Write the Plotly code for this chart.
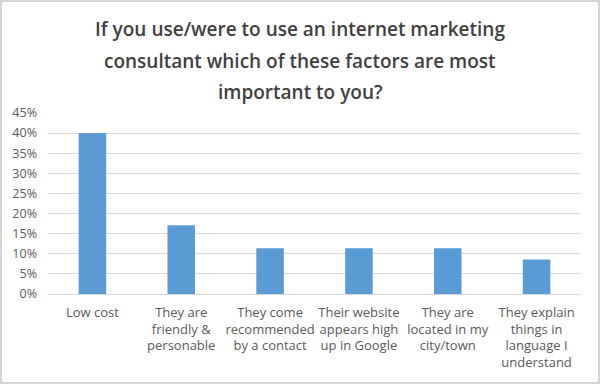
import plotly.graph_objects as go

categories = [
    "Low cost",
    "They are<br>friendly &<br>personable",
    "They come<br>recommended<br>by a contact",
    "Their website<br>appears high<br>up in Google",
    "They are<br>located in my<br>city/town",
    "They explain<br>things in<br>language I<br>understand",
]
values = [0.40, 0.171, 0.114, 0.114, 0.114, 0.086]
y_ticks = [0, 0.05, 0.10, 0.15, 0.20, 0.25, 0.30, 0.35, 0.40, 0.45]
y_labels = ["0%", "5%", "10%", "15%", "20%", "25%", "30%", "35%", "40%", "45%"]
title_lines = ["If you use/were to use an internet marketing",
               "consultant which of these factors are most",
               "important to you?"]

W, H = 600, 384
L, R, T, B = 48, 19, 113, 90

fig = go.Figure(go.Bar(x=categories, y=values, marker_color="#5b9bd5",
                       marker_line_width=0, hoverinfo="skip"))

pw = W - L - R
ph = H - T - B
fig.add_shape(type="rect", xref="paper", yref="paper",
              x0=(-L + 1) / pw, x1=1 + (R - 1) / pw,
              y0=(-B + 1) / ph, y1=1 + (T - 1) / ph,
              line=dict(color="#d4d4d4", width=2), layer="below")

for i, line in enumerate(title_lines):
    yc = 29 + 31.5 * i
    fig.add_annotation(text=line, xref="paper", yref="paper",
                       x=(300 - L) / pw, y=1 + (T - yc) / ph,
                       xanchor="center", yanchor="middle", showarrow=False,
                       font=dict(family="Open Sans", size=19, color="#404040", weight=600))

fig.update_layout(
    width=W, height=H,
    margin=dict(l=L, r=R, t=T, b=B, autoexpand=False),
    paper_bgcolor="white", plot_bgcolor="white",
    bargap=0.69,
    showlegend=False,
    font=dict(family="Open Sans", size=12, color="#595959"),
)
fig.update_xaxes(showgrid=False, showline=True, linecolor="#d9d9d9", linewidth=1,
                 automargin=False,
                 tickfont=dict(size=13, color="#595959"), ticklabelstandoff=6)
fig.update_yaxes(range=[0, 0.45], tickvals=y_ticks, ticktext=y_labels,
                 automargin=False,
                 showgrid=True, gridcolor="#d9d9d9", gridwidth=1, zeroline=False,
                 showline=False, tickfont=dict(size=12.5, color="#595959"),
                 ticklabelstandoff=10)

fig.write_html("out.html", config={"displayModeBar": False},
               post_script="document.body.style.margin='0';document.body.style.overflow='hidden';")
